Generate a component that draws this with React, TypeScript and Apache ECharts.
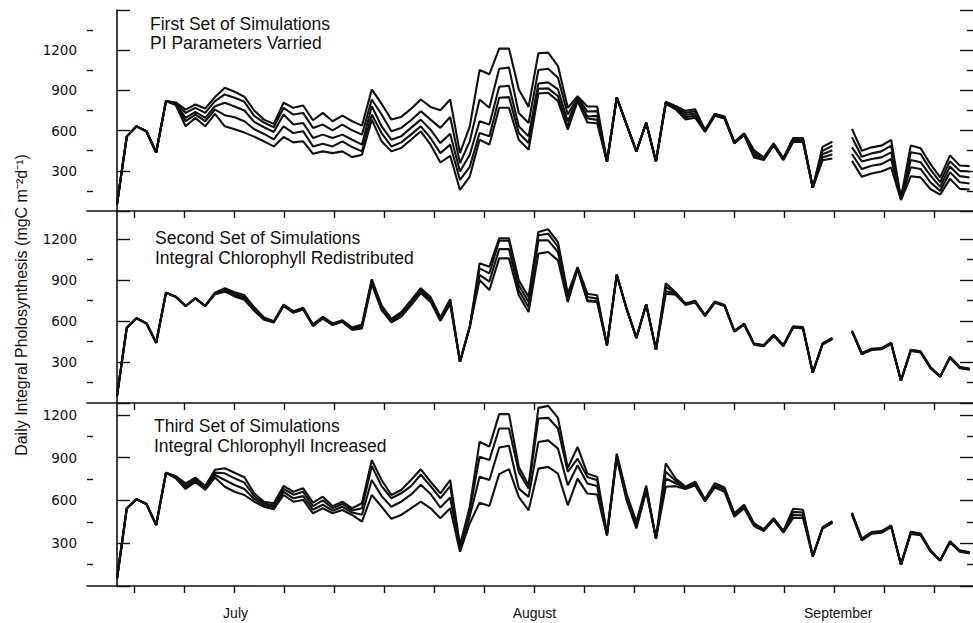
import { useEffect, useRef } from "react";
import * as echarts from "echarts";

// ---- data (day index 0..87; index 74 missing) ----
const N_DAYS = 88;
const DAYS = Array.from({ length: N_DAYS }, (_, i) => i);

const TICK_DAYS = [1.8, 6.9, 12.0, 17.1, 22.2, 27.3, 32.4, 37.5, 42.6, 47.7, 52.8, 57.9, 63.0, 68.1, 73.2, 78.3, 83.4];
const MONTH_DAYS = [12.1, 42.6, 73.6];
const MONTHS = ["July", "August", "September"];

const Y_LABELS = [300, 600, 900, 1200];
const Y_MAJOR_TOP = [0, 300, 600, 900, 1200, 1500];
const Y_MINOR_TOP = [150, 450, 750, 1050, 1350];
const Y_MAJOR = [0, 300, 600, 900, 1200];
const Y_MINOR = [150, 450, 750, 1050];
const Y_MAX = [1500, 1405, 1283];

const TITLES = [
  ["First Set of Simulations", "PI Parameters Varried"],
  ["Second Set of Simulations", "Integral Chlorophyll Redistributed"],
  ["Third Set of Simulations", "Integral Chlorophyll Increased"],
];
const Y_NAME = "Daily Integral Pholosynthesis (mgC m\u207B\u00B2d\u207B\u00B9)";

// Panel 1: PI parameters varied (5 runs)
const P1_A = [50,557,632,595,437,820,810,757,795,765,850,920,890,853,750,682,650,808,770,787,677,732,670,712,670,637,907,800,682,702,762,832,777,752,832,432,632,1052,1020,1212,1212,907,777,1177,1182,1082,770,857,780,780,367,847,644,445,658,370,815,784,747,759,605,725,705,515,580,455,400,505,395,545,545,174,479,517,null,613,450,475,488,530,95,489,469,351,251,415,340,335];
const P1_B = [50,557,632,595,437,820,805,732,770,732,820,870,845,815,710,660,625,770,720,732,620,645,602,645,602,570,832,720,595,620,677,745,682,620,702,357,520,832,770,1062,1070,732,657,1052,1062,995,720,850,742,745,367,847,644,445,658,370,812,778,732,744,601,720,700,512,576,440,395,500,390,537,537,174,449,487,null,550,405,430,445,488,92,439,426,310,215,372,300,295];
const P1_C = [50,557,632,595,437,820,800,695,740,695,782,808,780,750,665,625,590,720,645,657,545,570,545,570,532,495,782,632,532,557,620,682,607,507,577,295,420,670,645,927,935,632,557,952,960,907,670,840,705,710,367,847,644,445,658,370,808,772,716,728,597,717,697,510,572,425,390,498,386,530,530,174,424,454,null,475,370,388,400,438,88,381,364,265,180,332,260,250];
const P1_D = [50,557,632,595,437,820,795,670,720,670,757,715,700,670,610,575,535,632,582,595,482,502,482,520,477,445,720,582,482,512,570,632,545,432,495,232,330,582,557,845,850,582,507,912,915,857,632,830,690,680,367,847,644,445,658,370,804,765,700,712,594,713,693,507,568,412,385,495,383,522,522,174,399,424,null,425,313,338,350,388,85,326,314,215,150,290,215,205];
const P1_E = [50,557,632,595,437,820,790,632,695,632,725,632,610,585,555,520,482,552,512,520,427,445,432,445,402,420,682,520,445,470,532,595,495,362,412,157,257,532,495,770,770,532,457,877,882,820,607,820,660,655,367,847,644,445,658,370,800,759,684,696,590,710,690,505,565,400,380,490,380,515,515,174,379,392,null,375,255,280,295,325,82,259,251,164,122,240,165,160];

// Panel 2: integral chlorophyll redistributed (4 runs)
const P2_A = [50,551,620,583,441,807,778,710,766,710,807,840,810,790,700,625,598,720,672,697,575,631,582,605,552,575,905,715,615,665,750,840,775,628,760,302,558,1022,997,1205,1205,898,776,1252,1271,1178,800,995,800,788,422,939,690,476,722,389,877,810,728,748,645,742,718,528,582,436,424,500,424,562,555,222,437,477,null,530,366,397,402,441,163,390,379,264,193,338,264,252];
const P2_B = [50,551,620,583,441,807,778,710,766,710,805,832,800,775,693,620,595,717,668,693,571,627,578,602,546,571,895,705,607,656,741,832,766,620,754,302,558,985,949,1187,1187,861,739,1227,1239,1142,776,990,776,764,422,939,690,476,722,389,850,804,725,744,642,739,715,526,579,433,421,497,421,558,551,222,434,474,null,528,363,394,399,438,163,387,376,261,193,335,261,249];
const P2_C = [50,551,620,583,441,807,778,710,766,710,800,825,790,765,685,615,592,713,664,689,567,622,574,598,540,560,885,695,598,645,730,820,755,610,735,302,558,937,888,1126,1126,824,703,1190,1190,1105,751,985,751,745,422,939,690,476,722,389,820,798,722,740,639,736,712,524,576,430,418,494,418,555,548,222,431,471,null,526,360,391,396,435,163,384,373,258,193,332,258,246];
const P2_D = [50,551,620,583,441,807,778,710,766,710,795,815,780,755,675,610,590,710,660,685,563,618,570,594,535,546,870,680,590,630,715,805,740,600,725,302,558,900,827,1058,1058,788,666,1093,1105,1044,739,980,745,739,422,939,690,476,722,389,800,792,718,736,636,733,709,522,573,427,415,491,415,552,545,222,428,468,null,524,357,388,393,432,163,381,370,255,193,329,255,243];

// Panel 3: integral chlorophyll increased (4 runs)
const P3_A = [50,545,608,575,428,794,770,720,760,700,815,825,794,762,650,591,580,701,661,685,584,626,560,591,545,580,883,743,638,673,743,818,731,650,743,287,556,1011,977,1205,1205,835,706,1249,1263,1179,828,975,788,765,367,928,648,450,703,333,859,754,697,732,608,720,690,510,570,440,398,475,386,542,535,208,412,455,null,515,332,378,385,425,150,380,368,252,179,314,250,237];
const P3_B = [50,545,608,575,428,794,766,705,750,690,795,790,755,725,630,580,565,680,640,660,560,600,545,575,530,545,841,700,615,650,700,780,700,615,700,270,530,906,883,1104,1104,800,683,1174,1179,1104,800,893,765,741,362,915,632,435,690,333,801,738,692,722,603,710,680,502,562,433,394,471,382,520,515,208,409,451,null,510,328,374,381,421,150,375,364,249,179,311,247,234];
const P3_C = [50,545,608,575,428,794,762,692,740,682,778,743,708,680,610,568,552,660,615,630,535,570,528,555,515,500,743,630,556,591,640,710,645,550,620,255,490,766,743,971,983,683,625,1010,1021,963,706,846,718,701,357,905,615,418,678,333,754,720,686,714,598,700,670,494,554,427,390,467,378,498,495,208,405,447,null,504,324,370,377,417,150,370,360,246,179,308,244,231];
const P3_D = [50,545,608,575,428,794,755,680,730,675,760,696,661,638,591,556,538,638,591,603,510,545,510,533,498,451,638,556,471,498,545,591,545,475,545,240,440,584,561,784,819,625,531,823,835,788,566,753,648,641,353,893,601,403,665,333,696,700,680,705,593,690,660,485,545,420,386,463,374,477,477,208,402,443,null,498,320,366,373,413,150,365,356,243,179,305,241,228];

const PANELS = [
  [P1_A, P1_B, P1_C, P1_D, P1_E],
  [P2_A, P2_B, P2_C, P2_D],
  [P3_A, P3_B, P3_C, P3_D],
];

// ---- layout ----
const GRIDS = [
  { left: 87, top: 10, width: 886, height: 201 },
  { left: 87, top: 211, width: 886, height: 192 },
  { left: 87, top: 403, width: 886, height: 183 },
];
const TITLE_POS = [
  { x: 150, y1: 23.5, y2: 43 },
  { x: 155, y1: 237.5, y2: 257.5 },
  { x: 154, y1: 425.5, y2: 445.5 },
];
const INK = "#111";
const X_MIN = -3.06;
const X_MAX = 87.35;

function buildOption() {
  const grid = GRIDS.map((g) => ({ ...g, containLabel: false }));
  const xAxis = GRIDS.map((_, g) => ({
    type: "value",
    gridIndex: g,
    min: X_MIN,
    max: X_MAX,
    axisLine: { show: true, onZero: false, lineStyle: { color: INK, width: 1.6 } },
    axisTick: { show: true, inside: false, length: 7, customValues: TICK_DAYS, lineStyle: { color: INK, width: 1.4 } },
    axisLabel:
      g === 2
        ? {
            show: true,
            customValues: MONTH_DAYS,
            margin: 20,
            color: INK,
            fontFamily: "Liberation Sans",
            fontSize: 14,
            formatter: (v: number) => {
              const k = MONTH_DAYS.indexOf(v);
              return k >= 0 ? MONTHS[k] : "";
            },
          }
        : { show: false },
    splitLine: { show: false },
  }));

  const yAxis: any[] = [];
  GRIDS.forEach((_, g) => {
    const major = g === 0 ? Y_MAJOR_TOP : Y_MAJOR;
    const minor = g === 0 ? Y_MINOR_TOP : Y_MINOR;
    const base = { type: "value", gridIndex: g, min: 0, max: Y_MAX[g], splitLine: { show: false } };
    yAxis.push({
      ...base,
      position: "left",
      axisLine: { show: true, lineStyle: { color: INK, width: 1.6 } },
      axisTick: { show: true, inside: true, length: 13, customValues: major, lineStyle: { color: INK, width: 1.4 } },
      axisLabel: {
        show: true,
        customValues: Y_LABELS,
        margin: 10,
        color: INK,
        fontFamily: "DejaVu Sans",
        fontSize: 13.5,
        formatter: (v: number) => String(v),
      },
    });
    yAxis.push({
      ...base,
      position: "left",
      axisLine: { show: false },
      axisTick: { show: true, inside: true, length: 6, customValues: minor, lineStyle: { color: INK, width: 1.4 } },
      axisLabel: { show: false },
    });
    yAxis.push({
      ...base,
      position: "right",
      axisLine: { show: false },
      axisTick: { show: true, inside: true, length: 13, customValues: major, lineStyle: { color: INK, width: 1.4 } },
      axisLabel: { show: false },
    });
    yAxis.push({
      ...base,
      position: "right",
      axisLine: { show: false },
      axisTick: { show: true, inside: true, length: 6, customValues: minor, lineStyle: { color: INK, width: 1.4 } },
      axisLabel: { show: false },
    });
  });

  const series: any[] = [];
  PANELS.forEach((runs, g) => {
    runs.forEach((vals, r) => {
      series.push({
        type: "line",
        name: `panel${g + 1}-run${r + 1}`,
        xAxisIndex: g,
        yAxisIndex: g * 4,
        data: DAYS.map((d, i) => [d, vals[i]]),
        showSymbol: false,
        symbol: "none",
        connectNulls: false,
        silent: true,
        lineStyle: { color: INK, width: 2.1 },
      });
    });
  });

  const graphic: any[] = [];
  TITLES.forEach((lines, g) => {
    const p = TITLE_POS[g];
    [p.y1, p.y2].forEach((y, k) => {
      graphic.push({
        type: "text",
        x: p.x,
        y,
        silent: true,
        style: {
          text: lines[k],
          fill: INK,
          font: '17.5px "Liberation Sans"',
          align: "left",
          verticalAlign: "middle",
          textAlign: "left",
          textVerticalAlign: "middle",
        },
      });
    });
  });
  graphic.push({
    type: "text",
    x: 21,
    y: 305,
    rotation: Math.PI / 2,
    silent: true,
    style: {
      text: Y_NAME,
      fill: INK,
      font: '16px "Liberation Sans"',
      align: "center",
      verticalAlign: "middle",
      textAlign: "center",
      textVerticalAlign: "middle",
    },
  });

  return {
    animation: false,
    backgroundColor: "#ffffff",
    grid,
    xAxis,
    yAxis,
    series,
    graphic,
  };
}

export default function App() {
  const ref = useRef<HTMLDivElement>(null);
  useEffect(() => {
    document.body.style.margin = "0";
    if (!ref.current) return;
    const chart = echarts.init(ref.current, undefined, { renderer: "svg" });
    chart.setOption(buildOption() as any);
    return () => chart.dispose();
  }, []);
  return <div ref={ref} style={{ width: 973, height: 623, background: "#fff" }} />;
}
